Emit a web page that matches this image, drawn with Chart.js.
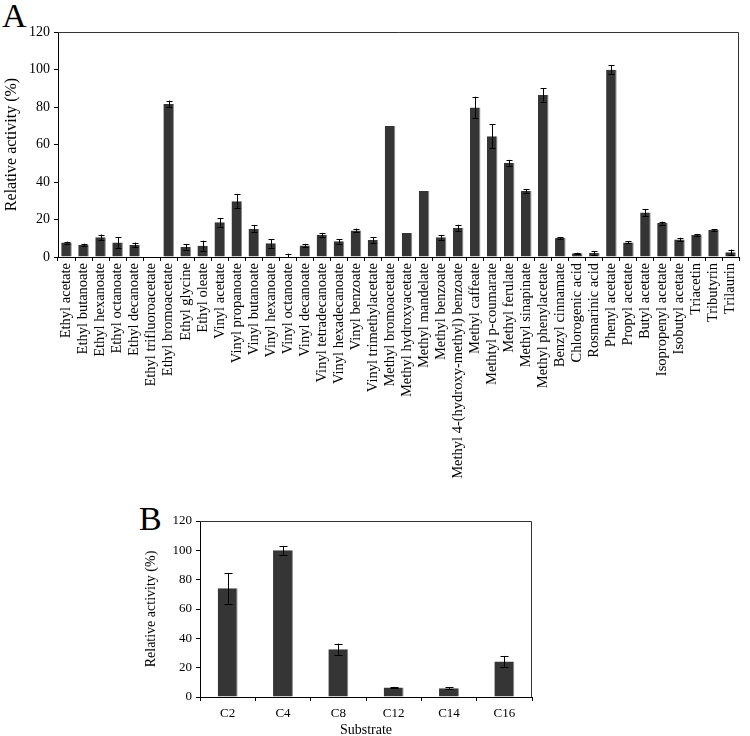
<!DOCTYPE html>
<html>
<head>
<meta charset="utf-8">
<script src="https://cdn.jsdelivr.net/npm/chart.js@4"></script>
<style>
  body { margin: 0; background: #fff; overflow: hidden; }
  #wrap { position: relative; width: 750px; height: 736px; font-family: "Liberation Serif", serif; }
  canvas { position: absolute; left: 0; }
  .panel { position: absolute; font-size: 34px; line-height: 1; color: #000; }
</style>
</head>
<body>
<div id="wrap">
  <div class="panel" style="left:2px; top:-1px;">A</div>
  <canvas id="chartA" width="750" height="490" style="top:0"></canvas>
  <div class="panel" style="left:139px; top:502px;">B</div>
  <canvas id="chartB" width="750" height="250" style="top:490px"></canvas>
</div>
<script>
// Panel A: substrates
const substrates = ['Ethyl acetate', 'Ethyl butanoate', 'Ethyl hexanoate', 'Ethyl octanoate', 'Ethyl decanoate',
  'Ethyl trifluoroacetate', 'Ethyl bromoacetate', 'Ethyl glycine', 'Ethyl oleate', 'Vinyl acetate',
  'Vinyl propanoate', 'Vinyl butanoate', 'Vinyl hexanoate', 'Vinyl octanoate', 'Vinyl decanoate',
  'Vinyl tetradecanoate', 'Vinyl hexadecanoate', 'Vinyl benzoate', 'Vinyl trimethylacetate',
  'Methyl bromoacetate', 'Methyl hydroxyacetate', 'Methyl mandelate', 'Methyl benzoate',
  'Methyl 4-(hydroxy-methyl) benzoate', 'Methyl caffeate', 'Methtyl p-coumarate', 'Methyl ferulate',
  'Methyl sinapinate', 'Methyl phenylacetate', 'Benzyl cinnamate', 'Chlorogenic acid', 'Rosmarinic acid',
  'Phenyl acetate', 'Propyl acetate', 'Butyl acetate', 'Isopropenyl acetate', 'Isobutyl acetate',
  'Triacetin', 'Tributyrin', 'Trilaurin'];
const activityA = [7.7, 6.6, 10.5, 7.7, 6.4, 0.3, 81.6, 5.4, 6.0, 18.5,
  29.7, 15.1, 7.3, 0, 6.2, 11.9, 8.4, 14.2, 9.1,
  69.9, 12.8, 35.2, 10.5, 15.5, 79.7, 64.4, 50.3, 35.2, 86.4,
  10.1, 2.0, 2.2, 99.9, 7.8, 23.7, 18.1, 9.3, 11.7, 14.4, 2.5];
const errorA = [0.5, 0.5, 1.5, 3.0, 1.3, 0, 1.8, 1.5, 2.7, 2.3,
  3.8, 2.0, 2.3, 1.8, 0.8, 1.0, 1.2, 1.0, 1.5,
  0, 0, 0, 1.3, 1.7, 5.8, 6.5, 1.5, 1.0, 3.5,
  0.5, 0.3, 1.0, 2.5, 0.5, 1.8, 0.8, 1.0, 0.5, 0.3, 1.5];

// Panel B: chain length
const chains = ['C2', 'C4', 'C8', 'C12', 'C14', 'C16'];
const activityB = [74.1, 100, 32.6, 6.4, 6.0, 24.2];
const errorB = [10.5, 3, 3.8, 0.5, 0.7, 3.8];

const yTicks = [0, 20, 40, 60, 80, 100, 120];

const serif = '"Liberation Serif", "Times New Roman", serif';
Chart.defaults.font.family = serif;
Chart.defaults.color = '#000';

// error bars + frame
const errorBars = {
  id: 'errorBars',
  afterDatasetsDraw(chart, args, opts) {
    const ctx = chart.ctx;
    const y = chart.scales.y;
    const ds = chart.data.datasets[0];
    const meta = chart.getDatasetMeta(0);
    ctx.save();
    ctx.strokeStyle = '#000';
    ctx.lineWidth = 1;
    meta.data.forEach((bar, i) => {
      const e = ds.errors[i];
      if (!e) return;
      const v = ds.data[i];
      const top = y.getPixelForValue(v + e);
      const bot = y.getPixelForValue(Math.max(v - e, 0));
      const x = Math.round(bar.x) + 0.5;
      ctx.beginPath();
      ctx.moveTo(x, top); ctx.lineTo(x, bot);
      ctx.moveTo(x - opts.cap, Math.round(top) + 0.5); ctx.lineTo(x + opts.cap, Math.round(top) + 0.5);
      if (v - e > 0) {
        ctx.moveTo(x - opts.cap, Math.round(bot) + 0.5); ctx.lineTo(x + opts.cap, Math.round(bot) + 0.5);
      }
      ctx.stroke();
    });
    const a = chart.chartArea;
    ctx.strokeStyle = '#333';
    ctx.beginPath();
    ctx.moveTo(a.left, Math.round(a.top) + 0.5);
    ctx.lineTo(Math.round(a.right) - 0.5, Math.round(a.top) + 0.5);
    ctx.lineTo(Math.round(a.right) - 0.5, a.bottom);
    ctx.stroke();
    ctx.restore();
  }
};

function makeChart(id, labels, values, errors, cfg) {
  return new Chart(document.getElementById(id), {
    type: 'bar',
    data: {
      labels: labels,
      datasets: [{
        data: values,
        errors: errors,
        backgroundColor: '#353535',
        borderColor: '#8a8a8a',
        borderWidth: { left: 0, right: 1, top: 0, bottom: 0 },
        barPercentage: cfg.barPct,
        categoryPercentage: 1
      }]
    },
    options: {
      responsive: false,
      animation: false,
      layout: { padding: cfg.padding },
      plugins: {
        legend: { display: false },
        tooltip: { enabled: false },
        errorBars: { cap: cfg.cap }
      },
      scales: {
        x: {
          grid: { drawOnChartArea: false, tickLength: 4, color: '#000' },
          border: { color: '#000' },
          ticks: {
            autoSkip: false,
            minRotation: cfg.rot, maxRotation: cfg.rot,
            padding: cfg.xPad,
            font: { size: cfg.xFont }
          },
          title: cfg.xTitle ? { display: true, text: cfg.xTitle, font: { size: 14 }, padding: { top: 0, bottom: 1 } } : { display: false },
          afterFit: s => { s.height = cfg.xHeight; }
        },
        y: {
          min: 0, max: 120,
          afterBuildTicks: s => { s.ticks = yTicks.map(v => ({ value: v })); },
          grid: { drawOnChartArea: false, tickLength: 4, color: '#000' },
          border: { color: '#000' },
          ticks: { padding: 4, font: { size: cfg.yFont } },
          title: { display: true, text: 'Relative activity (%)', font: { size: cfg.tFont }, padding: { top: 2, bottom: 0 } },
          afterFit: s => { s.width = cfg.yWidth; }
        }
      }
    },
    plugins: [errorBars]
  });
}

makeChart('chartA', substrates, activityA, errorA, {
  barPct: 0.62, cap: 3, rot: 90, xPad: 2, xFont: 14.5, yFont: 14, tFont: 16,
  padding: { top: 32, right: 1, left: 0, bottom: 0 }, xHeight: 233, yWidth: 58
});

makeChart('chartB', chains, activityB, errorB, {
  barPct: 0.36, cap: 4, rot: 0, xPad: 5, xFont: 13, yFont: 13, tFont: 14,
  padding: { top: 31, right: 218, left: 141, bottom: 0 }, xHeight: 43, yWidth: 59,
  xTitle: 'Substrate'
});
</script>
</body>
</html>
